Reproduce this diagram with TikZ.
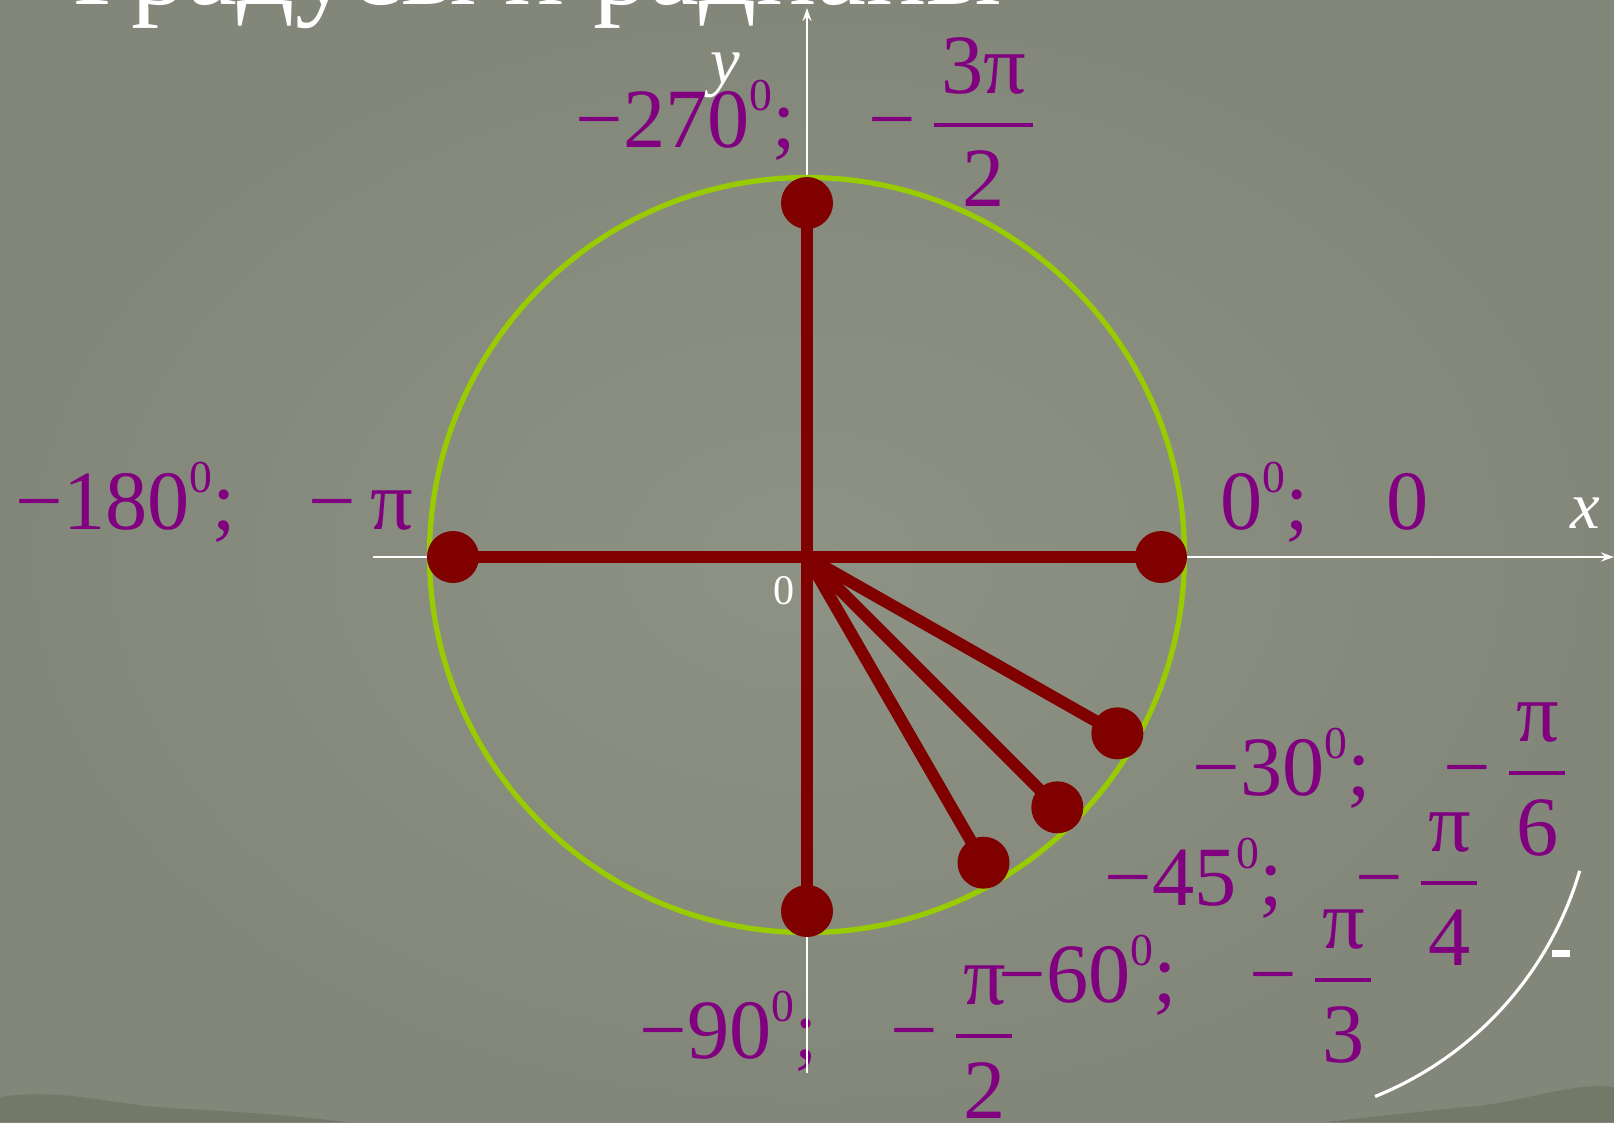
\documentclass[tikz,border=0pt]{standalone}
\usepackage{amsmath}
\usepackage{fontspec}
\setmainfont{Liberation Serif}
\usetikzlibrary{arrows.meta}

\definecolor{bglight}{RGB}{142,146,133}
\definecolor{bgdark}{RGB}{131,135,122}
\definecolor{smudge}{RGB}{80,88,66}
\definecolor{ringgreen}{RGB}{153,204,0}
\definecolor{raycol}{RGB}{128,0,0}
\definecolor{labcol}{RGB}{128,0,128}

\newcommand{\gr}{\raisebox{0.43em}{\fontsize{13}{13}\selectfont 0}}
\newcommand{\sep}{\hspace{0.86em}}
\newcommand{\mfr}[2]{$\dfrac{\text{\hspace{0.08em}\raisebox{-0.07em}{#1}\hspace{0.08em}}}{\text{\hspace{0.08em}#2\hspace{0.08em}}}$}

\tikzset{
  lbl/.style={text=labcol, anchor=base west, inner sep=0pt, font=\fontsize{24}{28}\selectfont},
  axis/.style={white, line width=0.6pt, -{Stealth[length=1.3mm,width=0.9mm]}},
  ray/.style={raycol, line width=3.4pt},
  dot/.style={fill=raycol},
}

\begin{document}
\begin{tikzpicture}
    % background
    \useasboundingbox (-8.07,-5.65) rectangle (8.07,5.57);
    \shade[inner color=bglight, outer color=bgdark] (-8.07,-5.65) rectangle (8.07,5.57);
    \fill[smudge, opacity=0.3] (-8.07,-5.65) -- (-8.07,-5.4) .. controls (-7.4,-5.3) and (-6.9,-5.5) .. (-6.2,-5.52) .. controls (-5.6,-5.55) and (-5,-5.6) .. (-4.6,-5.65) -- cycle;
    \fill[smudge, opacity=0.3] (8.07,-5.65) -- (8.07,-5.3) .. controls (7.6,-5.25) and (7.2,-5.45) .. (6.6,-5.5) .. controls (6.1,-5.55) and (5.6,-5.6) .. (5.2,-5.65) -- cycle;
    \node[anchor=base west, inner sep=0pt, text=white, font=\fontsize{32}{36}\selectfont] (title) at (-7.34,5.53) {Градусы и радианы};

    % labels
    \node[lbl] (l270) at (-2.32,4.10) {−270\gr;\sep −\,\mfr{3π}{2}};
    \node[lbl] (l180) at (-7.92,0.28) {−180\gr;\sep −\,π};
    \node[lbl] (l0) at (4.13,0.28) {0\gr;\sep\hspace{0.06em}0};
    \node[lbl] (l30) at (3.85,-2.38) {−30\gr;\sep −\,\mfr{π}{6}};
    \node[lbl] (l45) at (2.97,-3.48) {−45\gr;\sep −\,\mfr{π}{4}};
    \node[lbl] (l60) at (1.91,-4.45) {−60\gr;\sep −\,\mfr{π}{3}};
    \node[lbl] (l90) at (-1.68,-5.01) {−90\gr;\sep −\,\mfr{π}{2}};

    % axes
    \coordinate (O) at (0,0);
    \coordinate (xs) at (-4.34,0);
    \coordinate (xe) at (8.07,0);
    \coordinate (ys) at (0,-5.16);
    \coordinate (ye) at (0,5.49);
    \draw[axis] (xs)--(xe);
    \draw[axis] (ys)--(ye);

    % unit circle
    \draw[ringgreen, line width=1.5pt] (0,0.02) circle (3.775);

    % points
    \coordinate (p0) at (0:3.54);
    \coordinate (p30) at (-29.6:3.57);
    \coordinate (p45) at (-45:3.54);
    \coordinate (p60) at (-60:3.53);
    \coordinate (p90) at (-90:3.54);
    \coordinate (p180) at (180:3.54);
    \coordinate (p270) at (90:3.54);
    \draw[ray] (O)--(p0);
    \draw[ray] (O)--(p30);
    \draw[ray] (O)--(p45);
    \draw[ray] (O)--(p60);
    \draw[ray] (O)--(p90);
    \draw[ray] (O)--(p180);
    \draw[ray] (O)--(p270);
    \fill[dot] (p0) circle (0.26);
    \fill[dot] (p30) circle (0.26);
    \fill[dot] (p45) circle (0.26);
    \fill[dot] (p60) circle (0.26);
    \fill[dot] (p90) circle (0.26);
    \fill[dot] (p180) circle (0.26);
    \fill[dot] (p270) circle (0.26);

    % axis names
    \node[anchor=base west, inner sep=0pt, text=white, font=\fontsize{19}{22}\selectfont\itshape] (xl) at (7.63,0.29) {x};
    \node[anchor=base west, inner sep=0pt, text=white, font=\fontsize{19}{22}\selectfont\itshape] (yl) at (-0.97,4.74) {y};
    \node[anchor=base west, inner sep=0pt, text=white, font=\fontsize{12}{14}\selectfont] (ol) at (-0.34,-0.47) {0};

    % arc in the corner
    \draw[white, line width=0.9pt] (7.727,-3.138) arc[start angle=-16.4, end angle=-68, radius=3.5];
    \fill[white] (7.45,-3.93) rectangle (7.63,-4.00);
\end{tikzpicture}
\end{document}
